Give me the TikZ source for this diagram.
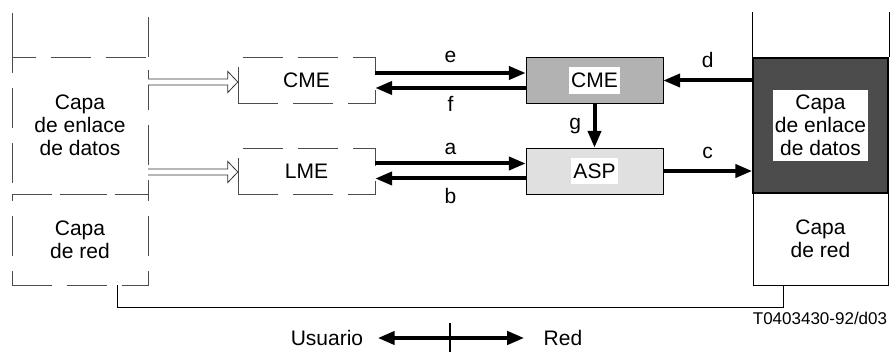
\documentclass[tikz,border=0pt]{standalone}
\usepackage{fontspec}
\setmainfont{Liberation Sans}
\usetikzlibrary{arrows.meta,calc}

\tikzset{
  box/.style={draw, minimum width=137pt, minimum height=46pt, inner sep=0pt},
  dsh/.style={draw=black!70, dash pattern=on 40pt off 15pt},
  thk/.style={line width=4pt, -{Triangle[length=17pt,width=13pt]}},
  hol/.style={draw=black!80, fill=white, line width=0.8pt, to path={
    ($(\tikztostart)+(0,-3)$) -- ($(\tikztotarget)+(-10,-3)$) -- ($(\tikztotarget)+(-10,-10.5)$)
    -- (\tikztotarget) -- ($(\tikztotarget)+(-10,10.5)$) -- ($(\tikztotarget)+(-10,3)$)
    -- ($(\tikztostart)+(0,3)$)}},
  lbl/.style={anchor=base}
}

\begin{document}
\begin{tikzpicture}[x=1pt,y=-1pt,font=\fontsize{21}{23}\selectfont]
\useasboundingbox (0,0) rectangle (892,352);
% user side
\node[dsh,minimum width=136pt,minimum height=137pt,align=center] (dl1) at (80,125.5) {Capa\\de enlace\\de datos};
\node[dsh,minimum width=136pt,minimum height=91pt,align=center] (nr1) at (80,239.5) {Capa\\de red};
\draw[draw=black!70] (dl1.north west) -- ++(0,-44);
\draw[dsh] (dl1.north east) -- ++(0,-44);
\node[box,dsh] (cme1) at (306.5,80.5) {CME};
\node[box,dsh] (lme1) at (306.5,171) {LME};
% network side
\node[box,fill=black!70,line width=1.5pt,minimum width=135pt,minimum height=135pt,
  label={[fill=white,align=center,inner xsep=2pt,inner ysep=5pt]center:Capa\\de enlace\\de datos}] (dl2) at (820.5,125.5) {};
\node[box,minimum width=135pt,minimum height=92pt,align=center] (nr2) at (820.5,239) {Capa\\de red};
\draw (dl2.north west) -- ++(0,-45);
\draw (dl2.north east) -- ++(0,-45);
\node[box,fill=black!30,label={[fill=white,inner xsep=2.5pt,inner ysep=6pt]center:CME}] (cme2) at (594.5,80.5) {};
\node[box,fill=black!12,label={[fill=white,inner xsep=2.5pt,inner ysep=6pt]center:ASP}] (asp) at (594.5,171) {};
% primitives
\draw[thk] ([yshift=7.5pt]cme1.east) -- node[lbl,yshift=10pt] {e} ([yshift=7.5pt]cme2.west);
\draw[thk] ([yshift=-7.5pt]cme2.west) -- node[lbl,yshift=-24pt] {f} ([yshift=-7.5pt]cme1.east);
\draw[thk] ([yshift=7.5pt]lme1.east) -- node[lbl,yshift=9pt] {a} ([yshift=7.5pt]asp.west);
\draw[thk] ([yshift=-7.5pt]asp.west) -- node[lbl,yshift=-25pt] {b} ([yshift=-7.5pt]lme1.east);
\draw[thk] (cme2.south) -- node[left=8pt] {g} (asp.north);
\draw[thk] (dl2.west |- cme2.east) -- node[lbl,yshift=13pt] {d} (cme2.east);
\draw[thk] (asp.east) -- node[lbl,yshift=12pt] {c} (asp.east -| dl2.west);
\draw[hol] (dl1.east |- 0,82) to (cme1.west |- 0,82);
\draw[hol] (dl1.east |- 0,172) to (lme1.west |- 0,172);
\draw ([xshift=37pt]nr1.south) -- ++(0,22) -| ([xshift=-37.5pt]nr2.south);
% bottom
\node (usr) at (327,338) {Usuario};
\node (red) at (563,338) {Red};
\draw[line width=4pt,{Triangle[length=17pt,width=13pt]}-{Triangle[length=17pt,width=13pt]},shorten <=11pt,shorten >=16pt] (usr) -- (red);
\draw[line width=1.5pt] (450,323) -- (450,352);
\node[font=\fontsize{17}{20}\selectfont] (code) at (820,318) {T0403430-92/d03};
\end{tikzpicture}
\end{document}
